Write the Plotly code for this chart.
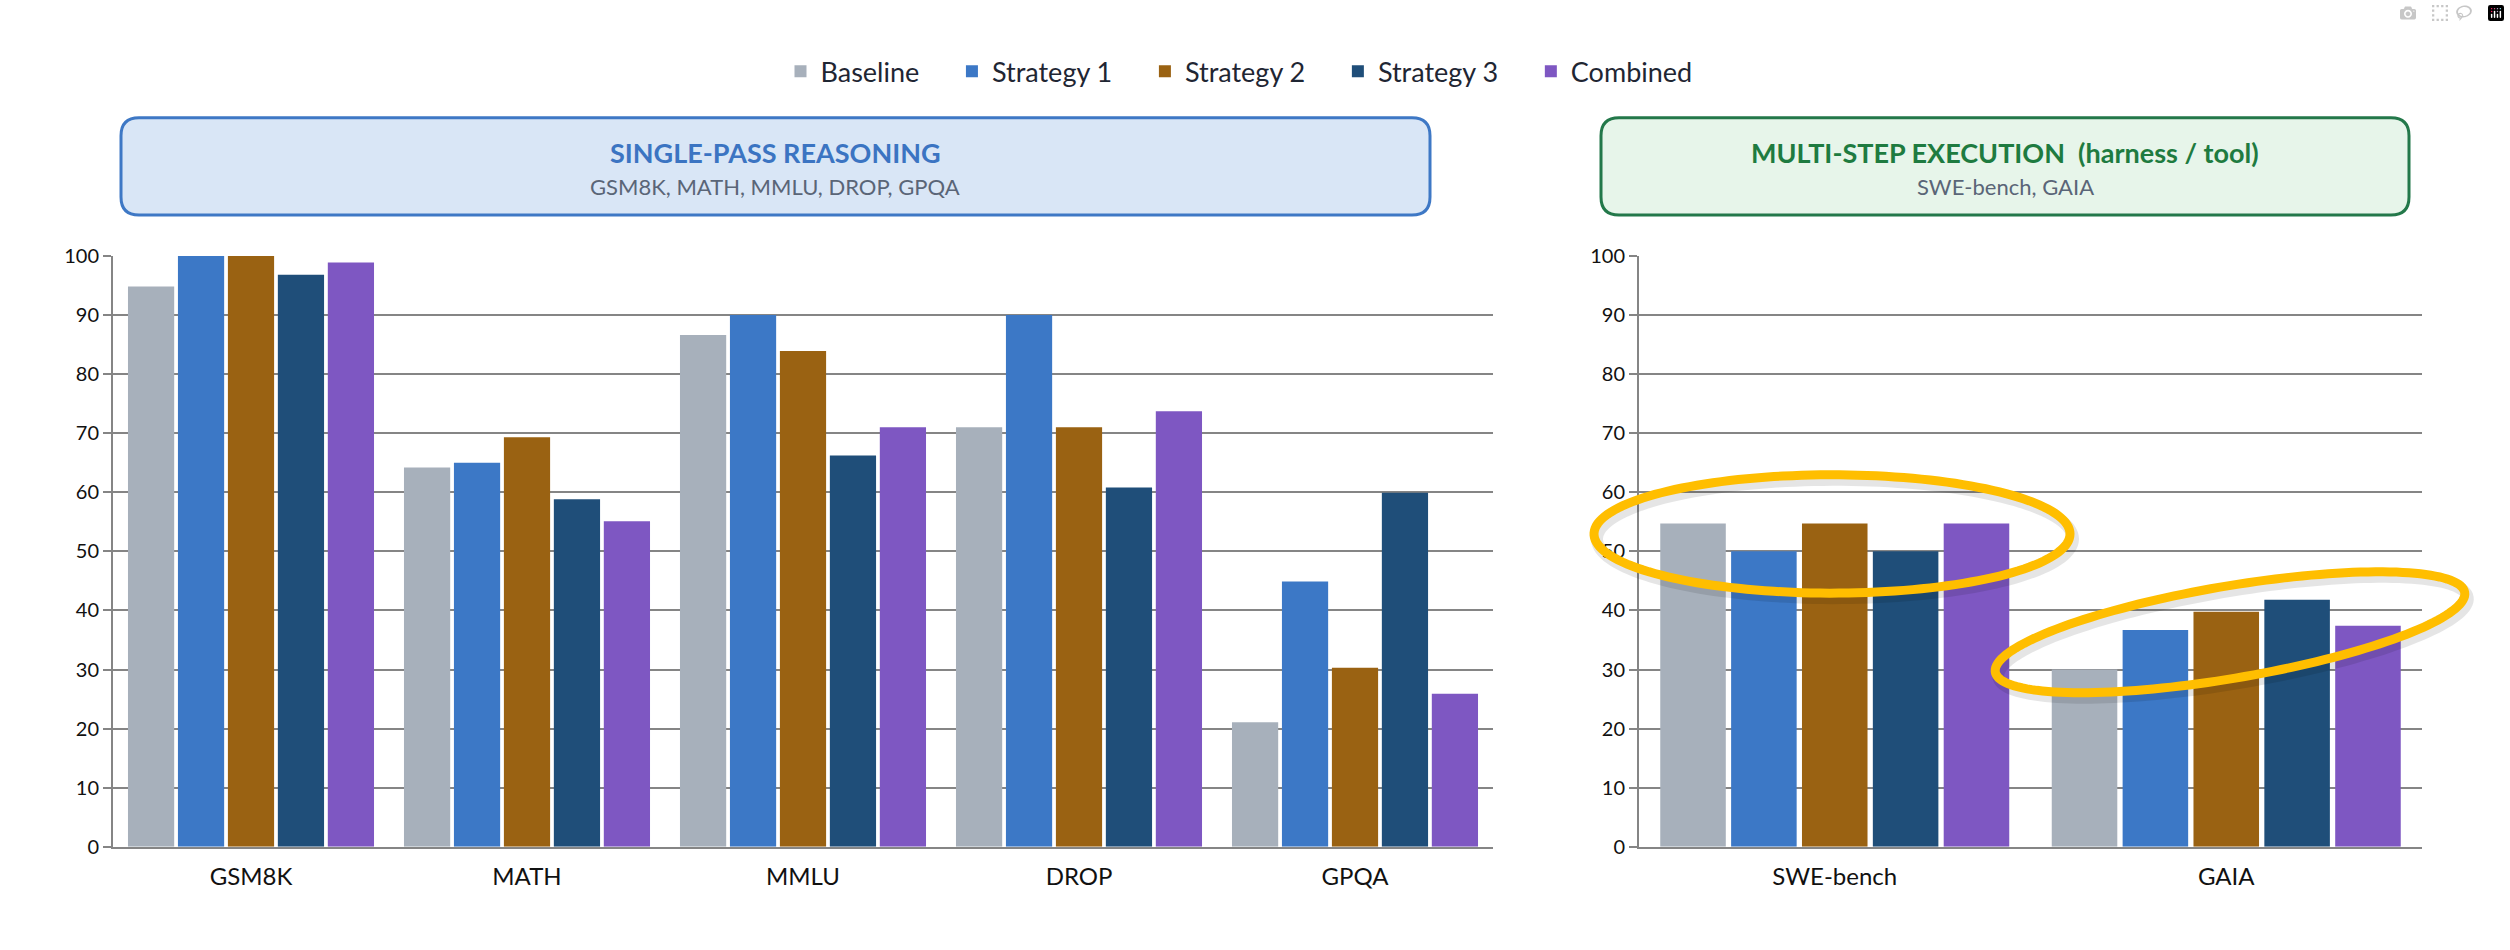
import numpy as np
import plotly.graph_objects as go

# ── Data ───────────────────────────────────────────────────────────────────
SERIES = ["Baseline", "Strategy 1", "Strategy 2", "Strategy 3", "Combined"]

SINGLE_CATS = ["GSM8K", "MATH", "MMLU", "DROP", "GPQA"]
SINGLE_BASELINE = [94.8, 64.2, 86.6, 71.0, 21.1]
SINGLE_S1 = [100, 65.0, 90.0, 90.0, 44.9]
SINGLE_S2 = [100, 69.3, 83.9, 71.0, 30.3]
SINGLE_S3 = [96.8, 58.8, 66.2, 60.8, 59.9]
SINGLE_COMB = [98.9, 55.1, 71.0, 73.7, 25.9]

MULTI_CATS = ["SWE-bench", "GAIA"]
MULTI_BASELINE = [54.7, 30.0]
MULTI_S1 = [50.0, 36.7]
MULTI_S2 = [54.7, 39.8]
MULTI_S3 = [50.0, 41.8]
MULTI_COMB = [54.7, 37.4]

Y_TICKS = list(range(0, 101, 10))

# ── Palette / page ─────────────────────────────────────────────────────────
W, H = 2510, 950
FONT = "Lato, 'Open Sans', sans-serif"
COLORS = ["#A7B0BB", "#3C78C6", "#9A6212", "#1F4E79", "#7E57C2"]
C_GRID = "#858585"
C_TEXT = "#111111"
C_GOLD = "#FFBE00"
PAD = "&nbsp;" * 4   # extra room after each legend label


def px(x):
    return x / W


def py(y):
    # target pixel row (as seen in the screenshot) -> paper fraction
    y = (y - 14.5) / 0.972
    return 1 - y / H


def rounded_rect(x0, y0, x1, y1, r):
    return (
        f"M{px(x0 + r)},{py(y0)} L{px(x1 - r)},{py(y0)} "
        f"Q{px(x1)},{py(y0)} {px(x1)},{py(y0 + r)} "
        f"L{px(x1)},{py(y1 - r)} Q{px(x1)},{py(y1)} {px(x1 - r)},{py(y1)} "
        f"L{px(x0 + r)},{py(y1)} Q{px(x0)},{py(y1)} {px(x0)},{py(y1 - r)} "
        f"L{px(x0)},{py(y0 + r)} Q{px(x0)},{py(y0)} {px(x0 + r)},{py(y0)} Z"
    )


def ellipse_path(cx, cy, a, b, deg, n=160):
    t = np.linspace(0, 2 * np.pi, n)
    th = np.radians(deg)
    xs = cx + a * np.cos(t) * np.cos(th) - b * np.sin(t) * np.sin(th)
    ys = cy - (a * np.cos(t) * np.sin(th) + b * np.sin(t) * np.cos(th))
    pts = [f"{px(x):.5f},{py(y):.5f}" for x, y in zip(xs, ys)]
    return "M" + " L".join(pts) + " Z"


# ── Figure ─────────────────────────────────────────────────────────────────
fig = go.Figure()

single = [SINGLE_BASELINE, SINGLE_S1, SINGLE_S2, SINGLE_S3, SINGLE_COMB]
multi = [MULTI_BASELINE, MULTI_S1, MULTI_S2, MULTI_S3, MULTI_COMB]

for name, color, vals in zip(SERIES, COLORS, single):
    fig.add_trace(go.Bar(
        x=SINGLE_CATS, y=vals, name=name + PAD,
        marker=dict(color=color, line=dict(width=0)),
        xaxis="x", yaxis="y", legendgroup=name,
    ))

for name, color, vals in zip(SERIES, COLORS, multi):
    fig.add_trace(go.Bar(
        x=MULTI_CATS, y=vals, name=name,
        marker=dict(color=color, line=dict(width=0)),
        xaxis="x2", yaxis="y2", legendgroup=name, showlegend=False,
    ))

# header boxes
shapes = [
    dict(type="path", xref="paper", yref="paper",
         path=rounded_rect(121, 119, 1430, 216, 18),
         fillcolor="#D9E6F6", line=dict(color="#3E78C5", width=3)),
    dict(type="path", xref="paper", yref="paper",
         path=rounded_rect(1601, 119, 2409, 216, 18),
         fillcolor="#E7F5EA", line=dict(color="#23784A", width=3)),
]

# highlight ellipses (with soft shadow)
ELLIPSES = [(1832, 534, 238, 59, 0), (2230, 632, 238, 46, 9.6)]
for cx, cy, a, b, deg in ELLIPSES:
    shapes.append(dict(type="path", xref="paper", yref="paper", layer="above",
                       path=ellipse_path(cx + 3, cy + 5, a, b, deg),
                       line=dict(color="rgba(0,0,0,0.10)", width=12)))
for cx, cy, a, b, deg in ELLIPSES:
    shapes.append(dict(type="path", xref="paper", yref="paper", layer="above",
                       path=ellipse_path(cx, cy, a, b, deg),
                       line=dict(color=C_GOLD, width=9)))


def label(x, y, text, size, color):
    return dict(x=px(x), y=py(y), xref="paper", yref="paper", showarrow=False,
                xanchor="center", yanchor="middle", text=text,
                font=dict(family=FONT, size=size, color=color))


annotations = [
    label(775, 154, "<b>SINGLE-PASS REASONING</b>", 27, "#3B74C2"),
    label(775, 188, "GSM8K, MATH, MMLU, DROP, GPQA", 22, "#5A6577"),
    label(2005, 154, "<b>MULTI-STEP EXECUTION&nbsp; (harness / tool)</b>", 27, "#1E7B40"),
    label(2005, 188, "SWE-bench, GAIA", 22, "#5A6577"),
]

yaxis_common = dict(
    range=[0, 100], tickvals=Y_TICKS,
    showgrid=True, gridcolor=C_GRID, gridwidth=2,
    showline=True, linecolor=C_GRID, linewidth=2,
    ticks="outside", ticklen=8, tickwidth=2, tickcolor=C_GRID,
    tickfont=dict(family=FONT, size=20, color=C_TEXT),
    zeroline=False, fixedrange=True,
    domain=[py(846), py(256.7)],
)
xaxis_common = dict(
    type="category", showgrid=False, zeroline=False,
    showline=True, linecolor=C_GRID, linewidth=2,
    ticks="", ticklabelstandoff=7,
    tickfont=dict(family=FONT, size=24, color=C_TEXT),
    fixedrange=True,
)

fig.update_layout(
    width=W, height=H,
    margin=dict(l=0, r=0, t=0, b=0),
    paper_bgcolor="white", plot_bgcolor="white",
    font=dict(family=FONT, color=C_TEXT),
    barmode="group", bargap=0.095, bargroupgap=0.075,
    xaxis=dict(xaxis_common, domain=[px(113), px(1493)], anchor="y"),
    yaxis=dict(yaxis_common, anchor="x"),
    xaxis2=dict(xaxis_common, domain=[px(1639), px(2422)], anchor="y2"),
    yaxis2=dict(yaxis_common, anchor="x2"),
    legend=dict(
        orientation="h", x=px(1253), xanchor="center", y=py(73), yanchor="middle",
        font=dict(family=FONT, size=27, color="#1F2633"),
        itemwidth=30, bgcolor="rgba(0,0,0,0)", traceorder="normal",
    ),
    shapes=shapes,
    annotations=annotations,
    showlegend=True,
)

fig.write_html("out.html", post_script="document.body.style.margin='0';")
